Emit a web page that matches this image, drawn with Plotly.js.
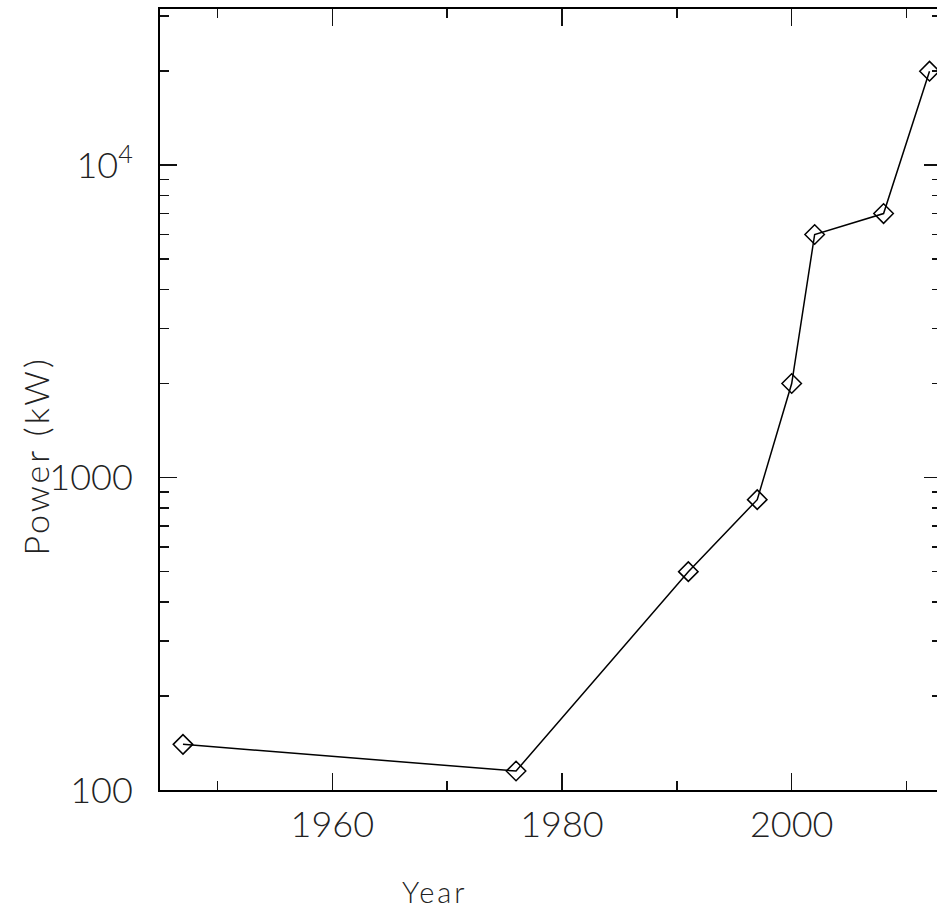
<!DOCTYPE html>
<html>
<head>
<meta charset="utf-8">
<script src="https://cdn.plot.ly/plotly-3.0.1.min.js"></script>
<style>
html, body { margin: 0; padding: 0; overflow: hidden; background: #fff; }
#chart { width: 945px; height: 910px; }
.annotation-text { letter-spacing: 3px; }
</style>
</head>
<body>
<div id="chart"></div>
<script>
const years = [1947, 1976, 1991, 1997, 2000, 2002, 2008, 2012];
const powerKW = [140, 115, 500, 850, 2000, 6000, 7000, 20000];
const yTickVals = [100, 1000, 10000];
const yTickText = ["100", "1000", "10<sup>4</sup>"];
const yMinorVals = [200, 300, 400, 500, 600, 700, 800, 900,
                    2000, 3000, 4000, 5000, 6000, 7000, 8000, 9000,
                    20000, 30000];
const xLabel = "Year";
const yLabel = "Power (kW)";

const FONT = "Lato, Open Sans, Liberation Sans, sans-serif";

const trace = {
  x: years,
  y: powerKW,
  type: "scatter",
  mode: "lines+markers",
  line: { color: "#000", width: 1.5 },
  marker: { symbol: "diamond-open", size: 15, color: "#000", line: { color: "#000", width: 1.5 } },
  cliponaxis: false,
  showlegend: false
};

const axisCommon = {
  showgrid: false,
  zeroline: false,
  showline: true,
  linecolor: "#000",
  linewidth: 2,
  mirror: "allticks",
  ticks: "inside",
  ticklen: 17,
  tickwidth: 1.5,
  tickcolor: "#111",
  tickfont: { family: FONT, size: 36, color: "#222", weight: 300 }
};

const layout = {
  width: 945,
  height: 910,
  autosize: false,
  margin: { l: 160, r: 4, t: 9, b: 120 },
  paper_bgcolor: "#fff",
  plot_bgcolor: "#fff",
  xaxis: Object.assign({}, axisCommon, {
    range: [1945, 2013],
    tickmode: "linear",
    tick0: 1960,
    dtick: 20,
    ticklabelstandoff: 2,
    minor: { tick0: 1950, dtick: 10, ticks: "inside", ticklen: 9, tickwidth: 1.5, tickcolor: "#111" }
  }),
  yaxis: Object.assign({}, axisCommon, {
    type: "log",
    range: [2, 4.5],
    tickmode: "array",
    tickvals: yTickVals,
    ticktext: yTickText,
    ticklabelstandoff: 18,
    minor: { tickmode: "array", tickvals: yMinorVals, ticks: "inside", ticklen: 9, tickwidth: 1.5, tickcolor: "#111" }
  }),
  annotations: [
    { text: xLabel, xref: "paper", yref: "paper", x: 0.352, y: -0.1306, xanchor: "center", yanchor: "middle",
      showarrow: false, font: { family: FONT, size: 29, color: "#222", weight: 300 } },
    { text: yLabel, xref: "paper", yref: "paper", x: -0.16, y: 0.427, xanchor: "center", yanchor: "middle",
      textangle: -90, showarrow: false, font: { family: FONT, size: 34, color: "#222", weight: 300 } }
  ]
};

Plotly.newPlot("chart", [trace], layout, { displayModeBar: false, staticPlot: true });
</script>
</body>
</html>
